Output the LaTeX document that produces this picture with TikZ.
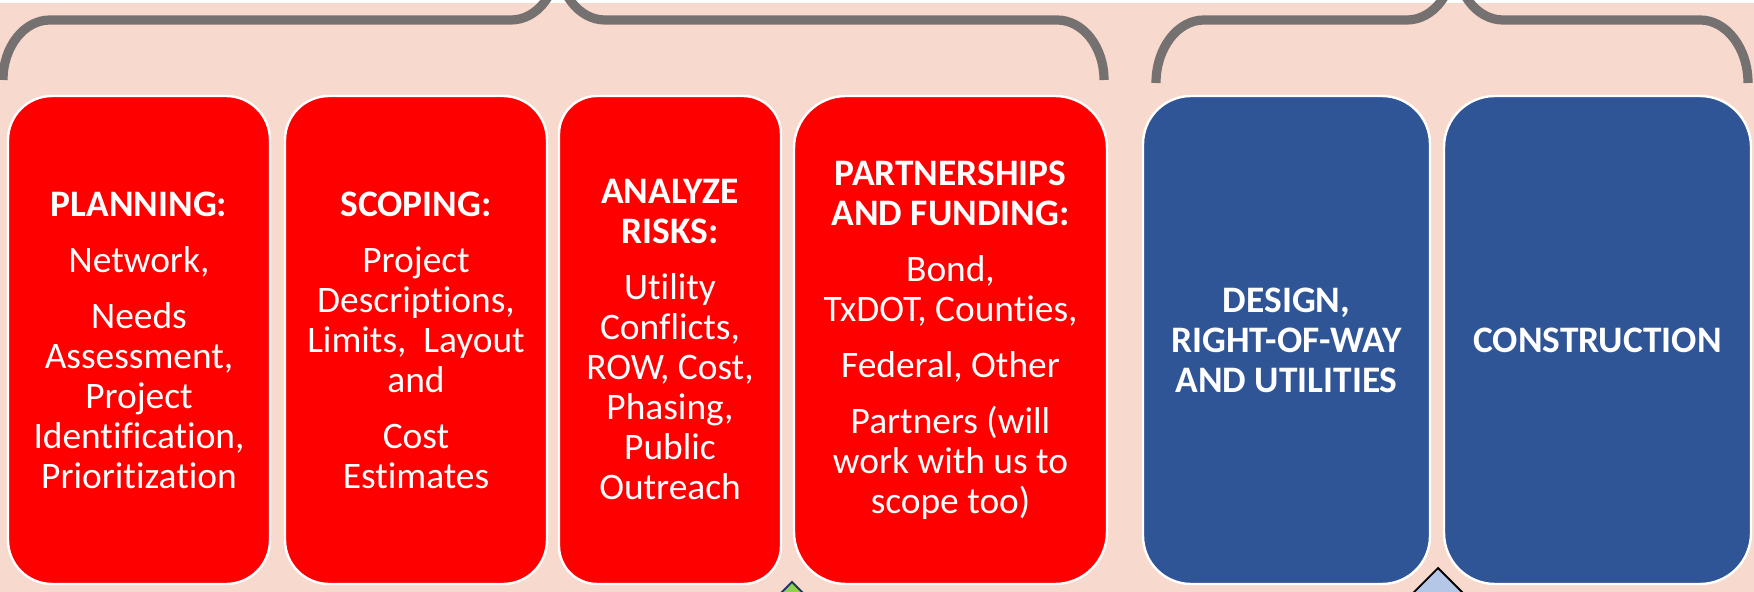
\documentclass[tikz,border=0pt]{standalone}
\usepackage{fontspec}
\setmainfont[Ligatures=CommonOff]{Carlito}
\definecolor{PhaseBack}{HTML}{F8D9CE}
\definecolor{PhaseRed}{HTML}{FF0000}
\definecolor{PhaseBlue}{HTML}{2F5597}
\definecolor{PhaseGrey}{HTML}{767171}
\definecolor{PhaseGreen}{HTML}{92D050}
\definecolor{PhaseSky}{HTML}{B4C7E7}
\definecolor{PhaseNavy}{HTML}{1F3864}
\usepackage{tikz}
\usetikzlibrary{positioning}

\begin{document}
\begin{tikzpicture}[
    x=1pt, y=1pt,
    node distance=6pt,
    stage/.style={
      draw=white,
      line width=1.2pt,
      rounded corners=22pt,
      align=center,
      text=white,
      font=\fontsize{18.7}{20}\selectfont,
      inner sep=2pt,
      minimum height=244pt
    },
    early/.style={stage, fill=PhaseRed},
    late/.style={stage, fill=PhaseBlue},
    brace/.style={draw=PhaseGrey, line width=4.6pt},
    marker/.style={line width=0.9pt, line join=miter}
  ]
    \clip (0,0) rectangle (877,-296);
    \fill[PhaseBack] (0,0) rectangle (877,-296);
    \fill[white] (0,0) rectangle (877,-1.5);

    % braces over the two groups of stages
    \draw[brace] (1.5,-40)
      arc[start angle=180, end angle=90, x radius=23.5pt, y radius=30pt]
      -- (255.5,-10)
      arc[start angle=270, end angle=360, x radius=23.5pt, y radius=30pt]
      arc[start angle=180, end angle=270, x radius=23.5pt, y radius=30pt]
      -- (528.5,-10)
      arc[start angle=90, end angle=0, x radius=23.5pt, y radius=30pt];
    \draw[brace] (578,-41.5)
      arc[start angle=180, end angle=90, x radius=24pt, y radius=31.5pt]
      -- (703.5,-10)
      arc[start angle=270, end angle=360, x radius=24pt, y radius=31.5pt]
      arc[start angle=180, end angle=270, x radius=24pt, y radius=31.5pt]
      -- (850,-10)
      arc[start angle=90, end angle=0, x radius=24pt, y radius=31.5pt];

    % markers under the gaps
    \draw[marker, fill=PhaseGreen, draw=PhaseNavy]
      (396,-291) -- ++(-15,-15) -- ++(15,-15) -- ++(15,15) -- cycle;
    \draw[marker, fill=PhaseSky, draw=black]
      (719,-284) -- ++(-20,-20) -- ++(20,-20) -- ++(20,20) -- cycle;

    \node[early, minimum width=131pt] (plan) at (69.5,-170)
      {\textbf{PLANNING:}\\[8pt]
       Network,\\[8pt]
       Needs\\Assessment,\\Project\\Identification,\\Prioritization};
    \node[early, minimum width=131pt, right=6.3pt of plan] (scope)
      {\textbf{SCOPING:}\\[8pt]
       Project\\Descriptions,\\Limits,~ Layout\\and\\[8pt]
       Cost\\Estimates};
    \node[early, minimum width=111pt, rounded corners=19pt, right=4.8pt of scope] (risk)
      {\textbf{ANALYZE}\\\textbf{RISKS:}\\[8pt]
       Utility\\Conflicts,\\ROW, Cost,\\Phasing,\\Public\\Outreach};
    \node[early, minimum width=156.5pt, rounded corners=26pt, right=5.3pt of risk] (fund)
      {\textbf{PARTNERSHIPS}\\\textbf{AND FUNDING:}\\[8pt]
       Bond,\\TxDOT, Counties,\\[8pt]
       Federal, Other\\[8pt]
       Partners (will\\work with us to\\scope too)};
    \node[late, minimum width=143.5pt, rounded corners=24pt, right=16.8pt of fund] (design)
      {\textbf{DESIGN,}\\\textbf{RIGHT-OF-WAY}\\\textbf{AND UTILITIES}};
    \node[late, minimum width=153.5pt, rounded corners=25.5pt, right=5.8pt of design] (build)
      {\textbf{CONSTRUCTION}};
  \end{tikzpicture}
\end{document}
